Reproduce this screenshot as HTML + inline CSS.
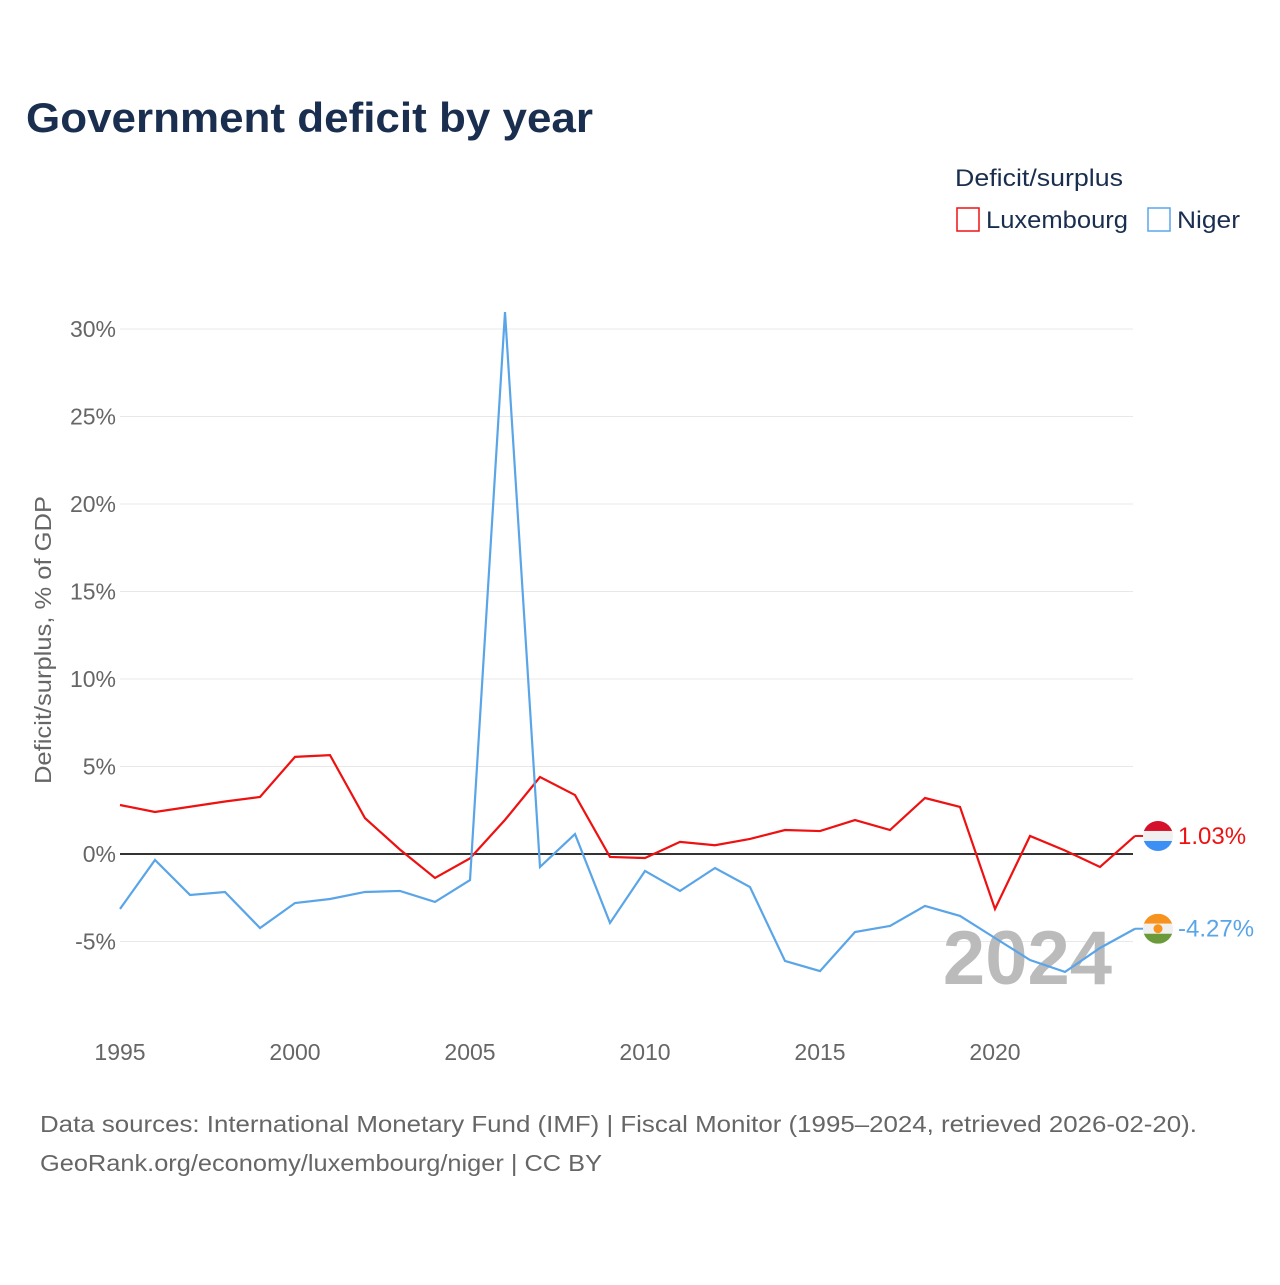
<!DOCTYPE html>
<html><head><meta charset="utf-8"><style>
body{margin:0;background:#fff;font-family:"Liberation Sans",sans-serif;}
svg text{font-family:"Liberation Sans",sans-serif;}
</style></head><body>
<svg id="c" width="1280" height="1280" viewBox="0 0 1280 1280">
<text x="26" y="132" font-size="42" font-weight="bold" fill="#1a2e4f" textLength="567" lengthAdjust="spacingAndGlyphs">Government deficit by year</text>
<text x="955" y="186" font-size="24" fill="#1a2e4f" textLength="168" lengthAdjust="spacingAndGlyphs">Deficit/surplus</text>
<g><rect x="957" y="208" width="22" height="23" fill="none" stroke="#ee1111" stroke-width="1.5"/><text x="986" y="228" font-size="24" fill="#1a2e4f" textLength="142" lengthAdjust="spacingAndGlyphs">Luxembourg</text></g>
<g><rect x="1148" y="208" width="22" height="23" fill="none" stroke="#5aa5e8" stroke-width="1.5"/><text x="1177" y="228" font-size="24" fill="#1a2e4f" textLength="63" lengthAdjust="spacingAndGlyphs">Niger</text></g>
<text transform="translate(51,640) rotate(-90)" text-anchor="middle" font-size="23" fill="#666" textLength="288" lengthAdjust="spacingAndGlyphs">Deficit/surplus, % of GDP</text>
<g id="grid"></g>
<text x="1112" y="984" text-anchor="end" font-size="76" font-weight="bold" fill="#bbb">2024</text>
<g id="series"></g>
<text x="40" y="1132" font-size="23" fill="#666" textLength="1157" lengthAdjust="spacingAndGlyphs">Data sources: International Monetary Fund (IMF) | Fiscal Monitor (1995–2024, retrieved 2026-02-20).</text>
<text x="40" y="1171" font-size="23" fill="#666" textLength="562" lengthAdjust="spacingAndGlyphs">GeoRank.org/economy/luxembourg/niger | CC BY</text>
</svg>
<script>
const years=[1995,1996,1997,1998,1999,2000,2001,2002,2003,2004,2005,2006,2007,2008,2009,2010,2011,2012,2013,2014,2015,2016,2017,2018,2019,2020,2021,2022,2023,2024];
const luxembourg=[2.8,2.4,2.7,3.0,3.26,5.55,5.65,2.05,0.25,-1.37,-0.25,1.95,4.4,3.37,-0.17,-0.23,0.69,0.5,0.86,1.37,1.31,1.94,1.37,3.2,2.69,-3.14,1.03,0.2,-0.74,1.03];
const niger=[-3.14,-0.34,-2.34,-2.17,-4.23,-2.8,-2.57,-2.17,-2.11,-2.74,-1.49,30.97,-0.74,1.14,-3.94,-0.97,-2.11,-0.8,-1.89,-6.11,-6.69,-4.46,-4.11,-2.97,-3.54,-4.8,-6.06,-6.74,-5.37,-4.27];
const yTicks=[-5,0,5,10,15,20,25,30];
const yTickLabels=["-5%","0%","5%","10%","15%","20%","25%","30%"];
const xTicks=[1995,2000,2005,2010,2015,2020];
const NS="http://www.w3.org/2000/svg";
const X=v=>120+(v-1995)*35;
const Y=v=>854-v*17.5;
function mk(t,a,p){const e=document.createElementNS(NS,t);for(const k in a)e.setAttribute(k,a[k]);p.appendChild(e);return e;}
const g=document.getElementById('grid'),s=document.getElementById('series');
yTicks.forEach((t,i)=>{
 const l=mk('line',{x1:120,x2:1133,y1:Y(t),y2:Y(t),stroke:t===0?'#333':'#e8e8e8','stroke-width':t===0?2:1},g);
 
 
 const tx=mk('text',{x:116,y:Y(t)+8,'text-anchor':'end','font-size':23,fill:'#666'},g);
 tx.textContent=yTickLabels[i];
 
 
});
xTicks.forEach(t=>{
 const tx=mk('text',{x:X(t),y:1060,'text-anchor':'middle','font-size':23,fill:'#666'},g);
 tx.textContent=t;
 
 
});
function line(d,col,name){
 const p=mk('polyline',{points:d.map((v,i)=>X(years[i])+','+Y(v)).join(' '),fill:'none',stroke:col,'stroke-width':2.2,'stroke-linejoin':'miter'},s);
 
 
 const last=d[d.length-1];
 mk('line',{x1:X(2024),x2:X(2024)+10,y1:Y(last),y2:Y(last),stroke:col,'stroke-width':2},s);
 return last;
}
function flag(cx,cy,cols,name,dot){
 const gg=mk('g',{},s);
 
 
 const id='cl'+name;
 const cp=mk('clipPath',{id:id},gg);mk('circle',{cx:cx,cy:cy,r:15},cp);
 cols.forEach((c,i)=>mk('rect',{x:cx-15,y:cy-15+i*10,width:30,height:10,fill:c,'clip-path':'url(#'+id+')'},gg));
 if(dot)mk('circle',{cx:cx,cy:cy,r:4.5,fill:'#f7921e'},gg);
}
function label(v,col,name){
 const t=mk('text',{x:1178,y:Y(v)+8,'font-size':24,fill:col},s);
 t.textContent=v.toFixed(2)+'%';
 
 
}
const lL=line(luxembourg,'#ee1111','line-luxembourg');
const lN=line(niger,'#5aa5e8','line-niger');
flag(1158,Y(lL),['#d4102a','#f0f0f0','#3b8ff5'],'flag-luxembourg',false);
flag(1158,Y(lN),['#f7921e','#f0f0f0','#6b9a3a'],'flag-niger',true);
label(lL,'#ee1111','end-label-luxembourg');
label(lN,'#5aa5e8','end-label-niger');
</script>
</body></html>
